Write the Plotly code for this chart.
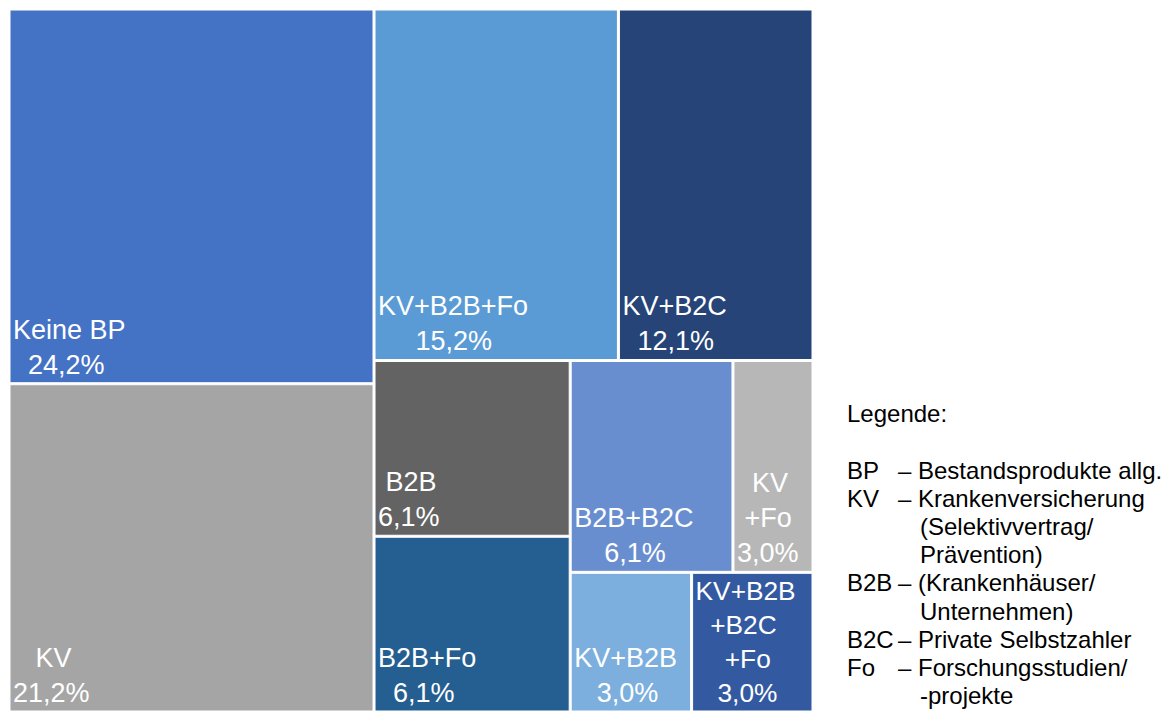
import plotly.graph_objects as go

# ---------------- data ----------------
labels = ["Keine BP", "KV", "KV+B2B+Fo", "KV+B2C", "B2B", "B2B+Fo",
          "B2B+B2C", "KV+Fo", "KV+B2B", "KV+B2B+B2C+Fo"]
label_lines = [["Keine BP"], ["KV"], ["KV+B2B+Fo"], ["KV+B2C"], ["B2B"],
               ["B2B+Fo"], ["B2B+B2C"], ["KV", "+Fo"], ["KV+B2B"],
               ["KV+B2B", "+B2C", "+Fo"]]
shares = [24.2, 21.2, 15.2, 12.1, 6.1, 6.1, 6.1, 3.0, 3.0, 3.0]
colors = ["#4472C4", "#A5A5A5", "#5B9BD5", "#264478", "#636363", "#255E91",
          "#698ED0", "#B7B7B7", "#7CAFDD", "#335AA1"]

legend_title = "Legende:"
legend_abbr = ["BP", "KV", "B2B", "B2C", "Fo"]
legend_desc = [["Bestandsprodukte allg."],
               ["Krankenversicherung", "(Selektivvertrag/", "Prävention)"],
               ["(Krankenhäuser/", "Unternehmen)"],
               ["Private Selbstzahler"],
               ["Forschungsstudien/", "-projekte"]]

# ---------------- helpers ----------------
W, H = 1172, 711
ML, MR, MT, MB = 10, 360, 10, 0
FONT = "Arial, 'Liberation Sans', sans-serif"

ARIAL = {"K": 667, "e": 556, "i": 222, "n": 556, " ": 278, "B": 667, "P": 667,
         "V": 667, "+": 584, "2": 556, "F": 611, "o": 556, "C": 722, ",": 278,
         "%": 889}


def text_w(s):
    return sum(ARIAL.get(c, 556) for c in s)


def centered_block(lines):
    wmax = max(text_w(l) for l in lines)
    out = []
    for l in lines:
        n = int(round((wmax - text_w(l)) / 2 / 278))
        out.append("\u00a0" * n + l)
    return "<br>".join(out)


def fmt_pct(v):
    return f"{v:.1f}%".replace(".", ",")


texts = [centered_block(ls + [fmt_pct(v)]) for ls, v in zip(label_lines, shares)]

fig = go.Figure(go.Treemap(
    labels=labels,
    parents=[""] * len(labels),
    values=shares,
    text=texts,
    textinfo="text",
    textposition="bottom left",
    textfont=dict(family=FONT, size=27, color="white"),
    marker=dict(colors=colors, line=dict(color="white", width=1),
                pad=dict(t=0, l=0, r=0, b=0)),
    tiling=dict(pad=2, squarifyratio=1.618),
    pathbar=dict(visible=False),
    sort=True,
    hoverinfo="label+value",
))

pw = W - ML - MR
ph = H - MT - MB


def px_x(x):
    return (x - ML) / pw


def px_y(y):
    return (H - MB - y) / ph


LEG_FS = 24
annotations = []
annotations.append(dict(text=legend_title, x=px_x(845), y=px_y(413), xref="paper", yref="paper",
                        xanchor="left", yanchor="middle", showarrow=False,
                        font=dict(family=FONT, size=LEG_FS, color="black")))
line_y0 = 470
step = 28.2
row = 0
for abbr, descs in zip(legend_abbr, legend_desc):
    y = line_y0 + row * step
    annotations.append(dict(text=abbr, x=px_x(845), y=px_y(y), xref="paper", yref="paper",
                            xanchor="left", yanchor="middle", showarrow=False,
                            font=dict(family=FONT, size=LEG_FS, color="black")))
    annotations.append(dict(text="– " + descs[0], x=px_x(896), y=px_y(y), xref="paper", yref="paper",
                            xanchor="left", yanchor="middle", showarrow=False,
                            font=dict(family=FONT, size=LEG_FS, color="black")))
    row += 1
    for d in descs[1:]:
        y = line_y0 + row * step
        annotations.append(dict(text=d, x=px_x(918), y=px_y(y), xref="paper", yref="paper",
                                xanchor="left", yanchor="middle", showarrow=False,
                                font=dict(family=FONT, size=LEG_FS, color="black")))
        row += 1

fig.update_layout(
    width=W, height=H,
    margin=dict(l=ML, r=MR, t=MT, b=MB, pad=0),
    paper_bgcolor="white",
    separators=",.",
    annotations=annotations,
    showlegend=False,
)

fig.write_html("out.html")
